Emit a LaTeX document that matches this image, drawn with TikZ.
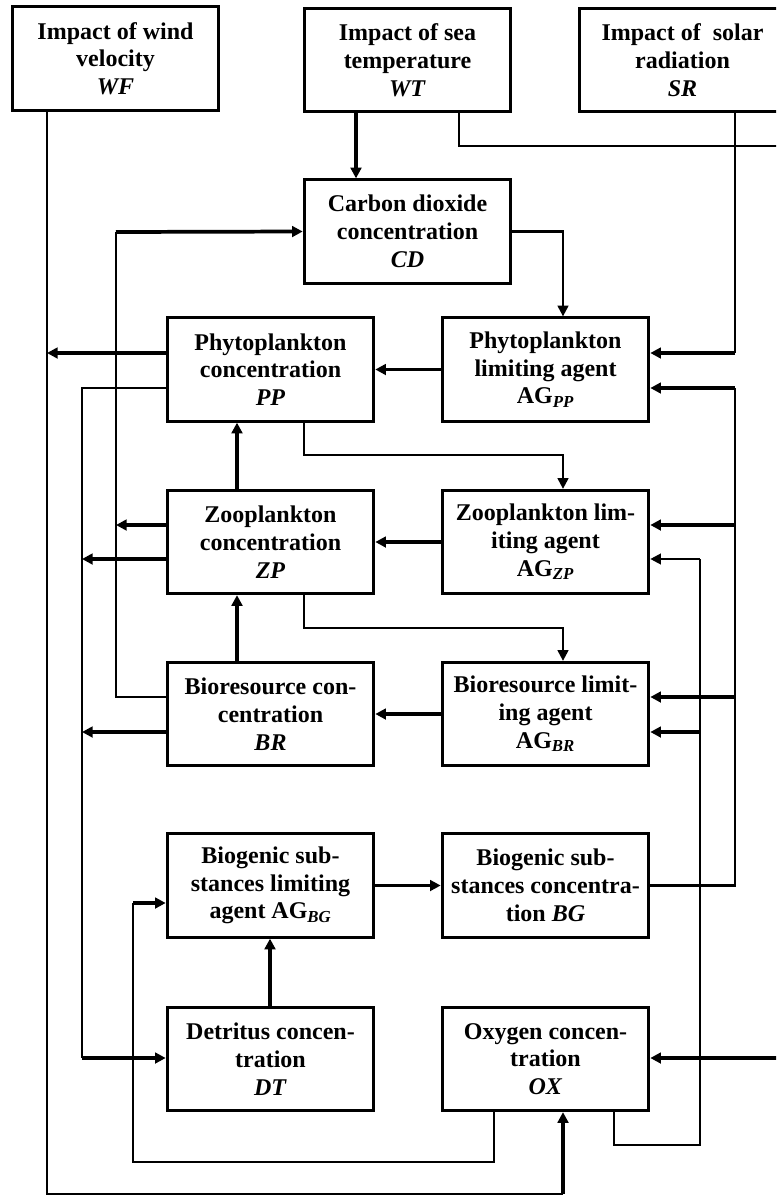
\documentclass[tikz,border=0pt]{standalone}
\usepackage{fontspec}
\setmainfont{Liberation Serif}
\usetikzlibrary{arrows.meta}
\newcommand{\agsub}[1]{AG\textsubscript{\textit{#1}}}
\begin{document}
\begin{tikzpicture}[x=0.75pt,y=-0.75pt,
  box/.style={draw, line width=2.2pt, minimum width=155pt, minimum height=77.5pt,
    inner sep=0pt, align=center, font=\fontsize{18}{20.8}\selectfont\bfseries},
  ln/.style={line width=1.6pt},
  tk/.style={line width=2.8pt},
  arr/.style={-{Triangle[length=8pt,width=8pt]}},
]
\useasboundingbox (0,0) rectangle (776,1196);
\clip (0,0) rectangle (776,1196);
\fill[white] (0,0) rectangle (776,1196);

% lanes (x) and rows (y)
\foreach \n/\v in {xa/47,xb/82,xc/116,xd/133,xe/237,xf/270,xg/304,xh/356,xi/459,xj/494,xk/563,xl/614,xm/700,xn/735,xr/782}
  {\coordinate (\n) at (\v,0);}
\foreach \v in {146,232,353,388,455,525,559,628,697,732,903,1058,1145,1162,1194}
  {\coordinate (y\v) at (0,\v);}

% nodes
\node[box] (WF) at (115.5,58.5) {Impact of wind\\velocity\\\textit{WF}};
\node[box] (WT) at (407.5,60) {Impact of sea\\temperature\\\textit{WT}};
\node[box] (SR) at (682.5,60) {Impact of~ solar\\radiation\\\textit{SR}};
\node[box] (CD) at (407.5,231.5) {Carbon dioxide\\concentration\\\textit{CD}};
\node[box] (PP) at (270.5,369.5) {Phytoplankton\\concentration\\\textit{PP}};
\node[box] (AGPP) at (545.5,369.5) {Phytoplankton\\limiting agent\\\agsub{PP}};
\node[box] (ZP) at (270.5,542) {Zooplankton\\concentration\\\textit{ZP}};
\node[box] (AGZP) at (545.5,542) {Zooplankton lim-\\iting agent\\\agsub{ZP}};
\node[box] (BR) at (270.5,714) {Bioresource con-\\centration\\\textit{BR}};
\node[box] (AGBR) at (545.5,714) {Bioresource limit-\\ing agent\\\agsub{BR}};
\node[box] (BGL) at (270.5,885.5) {Biogenic sub-\\stances limiting\\agent \agsub{BG}};
\node[box] (BG) at (545.5,885.5) {Biogenic sub-\\stances concentra-\\tion \textit{BG}};
\node[box] (DT) at (270.5,1059) {Detritus concen-\\tration\\\textit{DT}};
\node[box] (OX) at (545.5,1059) {Oxygen concen-\\tration\\\textit{OX}};

% sea temperature
\draw[tk,arr] (WT.south -| xh) -- (CD.north -| xh);
\draw[ln] (WT.south -| xi) |- (xr |- y146);
% solar radiation
\draw[ln] (SR.south -| xn) -- (xn |- y353);
\draw[tk,arr] (xn |- y353) -- (AGPP.east |- y353);
% carbon dioxide -> phytoplankton agent
\draw[ln,arr] (CD.east) -| (AGPP.north -| xk);
% phytoplankton
\draw[tk,arr] (AGPP.west) -- (PP.east);
\draw[tk,arr] (PP.west |- y353) -- (xa |- y353);
\draw[ln] (PP.west |- y388) -| (xb |- y1058);
\draw[tk,arr] (xb |- y1058) -- (DT.west |- y1058);
\draw[ln,arr] (PP.south -| xg) |- (xk |- y455) -- (AGZP.north -| xk);
% zooplankton
\draw[tk,arr] (ZP.north -| xe) -- (PP.south -| xe);
\draw[tk,arr] (AGZP.west) -- (ZP.east);
\draw[tk,arr] (ZP.west |- y525) -- (xc |- y525);
\draw[tk,arr] (ZP.west |- y559) -- (xb |- y559);
\draw[ln,arr] (ZP.south -| xg) |- (xk |- y628) -- (AGBR.north -| xk);
% bioresource
\draw[tk,arr] (BR.north -| xe) -- (ZP.south -| xe);
\draw[tk,arr] (AGBR.west) -- (BR.east);
\draw[ln] (BR.west |- y697) -| (xc |- y232);
\draw[tk,arr] (xc |- y232) -- (CD.west);
\draw[tk,arr] (BR.west |- y732) -- (xb |- y732);
% biogenic substances
\draw[tk,arr] (BGL.east) -- (BG.west);
\draw[ln] (BG.east) -| (xn |- y388);
\draw[tk,arr] (xn |- y388) -- (AGPP.east |- y388);
\draw[tk,arr] (xn |- y525) -- (AGZP.east |- y525);
\draw[tk,arr] (xn |- y697) -- (AGBR.east |- y697);
% detritus
\draw[tk,arr] (DT.north -| xf) -- (BGL.south -| xf);
% oxygen
\draw[ln] (OX.south -| xj) |- (xd |- y1162) -- (xd |- y903);
\draw[tk,arr] (xd |- y903) -- (BGL.west |- y903);
\draw[ln] (OX.south -| xl) |- (xm |- y1145) -- (xm |- y559);
\draw[ln,arr] (xm |- y559) -- (AGZP.east |- y559);
\draw[tk,arr] (xm |- y732) -- (AGBR.east |- y732);
% wind
\draw[ln] (WF.south -| xa) |- (xk |- y1194);
\draw[tk,arr] (xk |- y1194) -- (OX.south -| xk);
\draw[tk,arr] (xr |- y1058) -- (OX.east |- y1058);
\end{tikzpicture}
\end{document}
